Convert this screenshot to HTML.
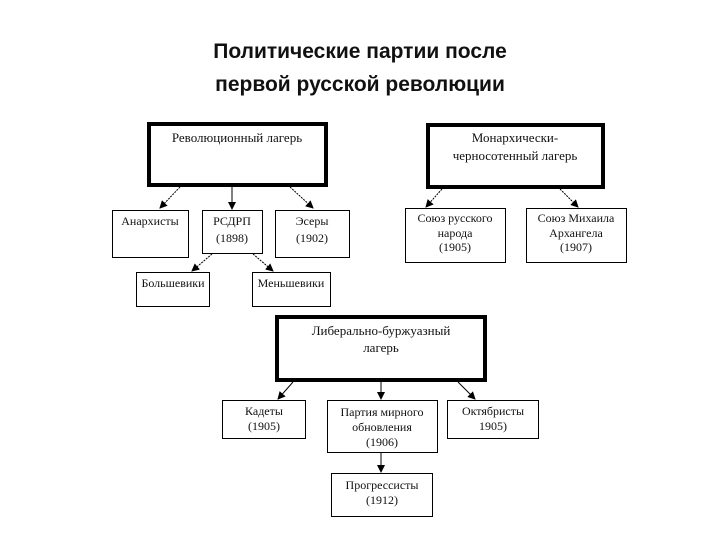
<!DOCTYPE html>
<html><head><meta charset="utf-8"><style>
html,body{margin:0;padding:0;background:#fff;}
svg{display:block}
.t{font-family:"Liberation Serif",serif;font-size:12px;fill:#111;text-anchor:middle}
.h{font-family:"Liberation Sans",sans-serif;font-weight:bold;font-size:21px;fill:#111;text-anchor:middle}
</style></head><body>
<svg width="720" height="540" viewBox="0 0 720 540">
<defs><marker id="a" markerWidth="8" markerHeight="8" refX="7" refY="4" orient="auto" markerUnits="userSpaceOnUse"><path d="M0,0 L8,4 L0,8 z" fill="#000"/></marker></defs>
<text class="h" x="360" y="58">Политические партии после</text>
<text class="h" x="360" y="91">первой русской революции</text>
<g fill="none" stroke="#000">
<rect x="149" y="124" width="177" height="61" stroke-width="4"/>
<rect x="428" y="125" width="175" height="62" stroke-width="4"/>
<rect x="277" y="317" width="208" height="63" stroke-width="4"/>
<g stroke-width="1">
<rect x="112.5" y="210.5" width="76" height="47"/>
<rect x="202.5" y="210.5" width="60" height="43"/>
<rect x="275.5" y="210.5" width="74" height="47"/>
<rect x="136.5" y="272.5" width="73" height="34"/>
<rect x="252.5" y="272.5" width="78" height="34"/>
<rect x="405.5" y="208.5" width="100" height="54"/>
<rect x="526.5" y="208.5" width="100" height="54"/>
<rect x="222.5" y="400.5" width="83" height="38"/>
<rect x="327.5" y="400.5" width="110" height="52"/>
<rect x="447.5" y="400.5" width="91" height="38"/>
<rect x="331.5" y="473.5" width="101" height="43"/>
</g>
<g stroke-width="1" marker-end="url(#a)">
<line x1="180" y1="187" x2="160" y2="208" stroke-dasharray="2,1"/>
<line x1="232" y1="187" x2="232" y2="209"/>
<line x1="290" y1="187" x2="313" y2="208" stroke-dasharray="2,1"/>
<line x1="212" y1="254" x2="192" y2="271" stroke-dasharray="2,1"/>
<line x1="253" y1="254" x2="273" y2="271" stroke-dasharray="2,1"/>
<line x1="442" y1="189" x2="426" y2="207" stroke-dasharray="2,1"/>
<line x1="560" y1="189" x2="578" y2="207" stroke-dasharray="2,1"/>
<line x1="293" y1="382" x2="278" y2="399"/>
<line x1="381" y1="382" x2="381" y2="399"/>
<line x1="458" y1="382" x2="475" y2="399"/>
<line x1="381" y1="453" x2="381" y2="472"/>
</g>
</g>
<text class="t" x="237" y="142" style="font-size:13px">Революционный лагерь</text>
<text class="t" x="515" y="142" style="font-size:13px">Монархически-</text>
<text class="t" x="515" y="160" style="font-size:13px">черносотенный лагерь</text>
<text class="t" x="381" y="335" style="font-size:13px">Либерально-буржуазный</text>
<text class="t" x="381" y="352" style="font-size:13px">лагерь</text>
<text class="t" x="150" y="225">Анархисты</text>
<text class="t" x="232" y="225">РСДРП</text>
<text class="t" x="232" y="242">(1898)</text>
<text class="t" x="312" y="225">Эсеры</text>
<text class="t" x="312" y="242">(1902)</text>
<text class="t" x="173" y="287">Большевики</text>
<text class="t" x="291" y="287">Меньшевики</text>
<text class="t" x="455" y="222">Союз русского</text>
<text class="t" x="455" y="237">народа</text>
<text class="t" x="455" y="251">(1905)</text>
<text class="t" x="576" y="222">Союз Михаила</text>
<text class="t" x="576" y="237">Архангела</text>
<text class="t" x="576" y="251">(1907)</text>
<text class="t" x="264" y="415">Кадеты</text>
<text class="t" x="264" y="430">(1905)</text>
<text class="t" x="382" y="416">Партия мирного</text>
<text class="t" x="382" y="431">обновления</text>
<text class="t" x="382" y="446">(1906)</text>
<text class="t" x="493" y="415">Октябристы</text>
<text class="t" x="493" y="430">1905)</text>
<text class="t" x="382" y="489">Прогрессисты</text>
<text class="t" x="382" y="504">(1912)</text>
</svg>
</body></html>
